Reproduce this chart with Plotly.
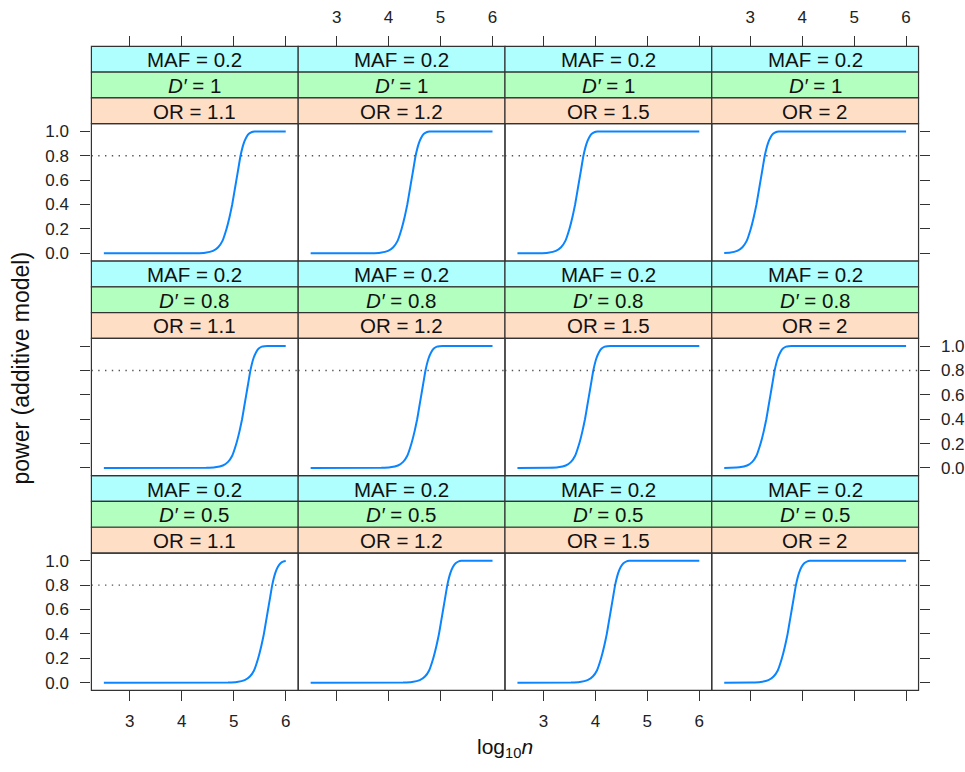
import plotly.graph_objects as go

# ---------------- data ----------------
MAF_VALUE = "0.2"
OR_LEVELS = ["1.1", "1.2", "1.5", "2"]
DPRIME_LEVELS = ["1", "0.8", "0.5"]
X_TICKS = [3, 4, 5, 6]
Y_TICKS = [0.0, 0.2, 0.4, 0.6, 0.8, 1.0]
THRESHOLD = 0.8

POWER = [0, 0.001, 0.005, 0.02, 0.05, 0.1, 0.2, 0.3, 0.4, 0.5, 0.6, 0.7,
         0.8, 0.9, 0.95, 0.98, 0.995, 0.999, 1.0, 1.0]

# D' = 1
x_d10_or11 = [2.5, 4.28, 4.45, 4.60, 4.70, 4.78, 4.86, 4.92, 4.97, 5.01, 5.05, 5.09, 5.13, 5.19, 5.24, 5.29, 5.35, 5.40, 5.46, 6]
x_d10_or12 = [2.5, 3.67, 3.84, 3.99, 4.09, 4.17, 4.25, 4.31, 4.36, 4.40, 4.44, 4.48, 4.52, 4.58, 4.63, 4.68, 4.74, 4.79, 4.85, 6]
x_d10_or15 = [2.5, 2.92, 3.09, 3.24, 3.34, 3.42, 3.50, 3.56, 3.61, 3.65, 3.69, 3.73, 3.77, 3.83, 3.88, 3.93, 3.99, 4.04, 4.10, 6]
x_d10_or20 = [2.5, 2.60, 2.75, 2.85, 2.93, 3.01, 3.07, 3.12, 3.16, 3.20, 3.24, 3.28, 3.34, 3.39, 3.44, 3.50, 3.55, 3.61, 6]
y_d10_or20 = [0.003, 0.005, 0.02, 0.05, 0.1, 0.2, 0.3, 0.4, 0.5, 0.6, 0.7, 0.8, 0.9, 0.95, 0.98, 0.995, 0.999, 1.0, 1.0]
# D' = 0.8
x_d08_or11 = [2.5, 4.47, 4.64, 4.79, 4.89, 4.97, 5.05, 5.11, 5.16, 5.20, 5.24, 5.28, 5.32, 5.38, 5.43, 5.48, 5.54, 5.59, 5.65, 6]
x_d08_or12 = [2.5, 3.86, 4.03, 4.18, 4.28, 4.36, 4.44, 4.50, 4.55, 4.59, 4.63, 4.67, 4.71, 4.77, 4.82, 4.87, 4.93, 4.98, 5.04, 6]
x_d08_or15 = [2.5, 3.11, 3.28, 3.43, 3.53, 3.61, 3.69, 3.75, 3.80, 3.84, 3.88, 3.92, 3.96, 4.02, 4.07, 4.12, 4.18, 4.23, 4.29, 6]
x_d08_or20 = [2.5, 2.62, 2.79, 2.94, 3.04, 3.12, 3.20, 3.26, 3.31, 3.35, 3.39, 3.43, 3.47, 3.53, 3.58, 3.63, 3.69, 3.74, 3.80, 6]
# D' = 0.5
x_d05_or11 = [2.5, 4.89, 5.06, 5.21, 5.31, 5.39, 5.47, 5.53, 5.58, 5.62, 5.66, 5.70, 5.74, 5.80, 5.85, 5.90, 5.96, 6.0]
y_d05_or11 = [0, 0.001, 0.005, 0.02, 0.05, 0.1, 0.2, 0.3, 0.4, 0.5, 0.6, 0.7, 0.8, 0.9, 0.95, 0.98, 0.995, 0.998]
x_d05_or12 = [2.5, 4.28, 4.45, 4.60, 4.70, 4.78, 4.86, 4.92, 4.97, 5.01, 5.05, 5.09, 5.13, 5.19, 5.24, 5.29, 5.35, 5.40, 5.46, 6]
x_d05_or15 = [2.5, 3.53, 3.70, 3.85, 3.95, 4.03, 4.11, 4.17, 4.22, 4.26, 4.30, 4.34, 4.38, 4.44, 4.49, 4.54, 4.60, 4.65, 4.71, 6]
x_d05_or20 = [2.5, 3.03, 3.20, 3.35, 3.45, 3.53, 3.61, 3.67, 3.72, 3.76, 3.80, 3.84, 3.88, 3.94, 3.99, 4.04, 4.10, 4.15, 4.21, 6]

CURVES = [
    [(x_d10_or11, POWER), (x_d10_or12, POWER), (x_d10_or15, POWER), (x_d10_or20, y_d10_or20)],
    [(x_d08_or11, POWER), (x_d08_or12, POWER), (x_d08_or15, POWER), (x_d08_or20, POWER)],
    [(x_d05_or11, y_d05_or11), (x_d05_or12, POWER), (x_d05_or15, POWER), (x_d05_or20, POWER)],
]

# ---------------- layout geometry (pixels) ----------------
W, H = 965, 772
COL_L = [91.5, 298.5, 505.5, 712.5]
COL_W = 207.0
ROW_TOP = [45.5, 261.0, 476.5]
STRIP_H = 25.9
PLOT_H = 137.8
X_RANGE = [2.26, 6.24]
Y_RANGE = [-0.063, 1.063]

FONT = "Liberation Sans, Arial, Helvetica, sans-serif"
LINE_COL = "#333333"
STRIP_COLS = ["#AFFFFF", "#B3FFBF", "#FFDEC6"]  # MAF, D', OR
CURVE_COL = "#0A84FF"


def px(xp):
    return xp / W


def py(yp):
    return 1 - yp / H


fig = go.Figure()
shapes = []
annotations = []

for r in range(3):
    for c in range(4):
        i = r * 4 + c + 1
        s = "" if i == 1 else str(i)
        left = COL_L[c]
        right = left + COL_W
        strip_top = ROW_TOP[r]
        plot_top = strip_top + 3 * STRIP_H
        plot_bot = plot_top + PLOT_H

        xs, ys = CURVES[r][c]
        fig.add_trace(go.Scatter(
            x=xs, y=ys, mode="lines",
            line=dict(color=CURVE_COL, width=2, shape="spline", smoothing=0.4),
            xaxis="x" + s, yaxis="y" + s, showlegend=False, hoverinfo="skip"))

        # x axis
        xa = dict(domain=[px(left), px(right)], range=X_RANGE, tickvals=X_TICKS,
                  showgrid=False, zeroline=False, showline=False,
                  tickfont=dict(family=FONT, size=17, color="#222222"),
                  tickcolor=LINE_COL, tickwidth=1, ticklen=10,
                  ticklabelstandoff=7, anchor="y" + s)
        if r == 0:
            xa.update(side="top", ticks="outside", anchor="free",
                      position=py(strip_top), showticklabels=(c in (1, 3)))
        elif r == 2:
            xa.update(side="bottom", ticks="outside", ticklabelstandoff=5,
                      showticklabels=(c in (0, 2)))
        else:
            xa.update(ticks="", showticklabels=False)

        # y axis
        ya = dict(domain=[py(plot_bot), py(plot_top)], range=Y_RANGE, tickvals=Y_TICKS,
                  tickformat=".1f", showgrid=False, zeroline=False, showline=False,
                  tickfont=dict(family=FONT, size=17, color="#222222"),
                  tickcolor=LINE_COL, tickwidth=1, ticklen=10,
                  ticklabelstandoff=8, anchor="x" + s)
        if c == 0:
            ya.update(side="left", ticks="outside", showticklabels=(r in (0, 2)))
        elif c == 3:
            ya.update(side="right", ticks="outside", showticklabels=(r == 1))
        else:
            ya.update(ticks="", showticklabels=False)

        fig.layout["xaxis" + s] = xa
        fig.layout["yaxis" + s] = ya

        # dotted reference line
        shapes.append(dict(type="line", xref="x" + s + " domain", yref="y" + s,
                           x0=0, x1=1, y0=THRESHOLD, y1=THRESHOLD,
                           line=dict(color="#555555", width=1.4, dash="1.4px,5.4px")))
        # panel border
        shapes.append(dict(type="rect", xref="paper", yref="paper",
                           x0=px(left), x1=px(right), y0=py(plot_bot), y1=py(plot_top),
                           line=dict(color=LINE_COL, width=1.2), layer="above"))
        # strips
        texts = ["MAF = " + MAF_VALUE,
                 "<i>D′</i> = " + DPRIME_LEVELS[r],
                 "OR = " + OR_LEVELS[c]]
        for k in range(3):
            t0 = strip_top + k * STRIP_H
            t1 = t0 + STRIP_H
            shapes.append(dict(type="rect", xref="paper", yref="paper",
                               x0=px(left), x1=px(right), y0=py(t1), y1=py(t0),
                               fillcolor=STRIP_COLS[k],
                               line=dict(color=LINE_COL, width=1.2), layer="below"))
            annotations.append(dict(xref="paper", yref="paper",
                                    x=px(left + COL_W / 2), y=py((t0 + t1) / 2 + 0.5),
                                    text=texts[k], showarrow=False,
                                    xanchor="center", yanchor="middle",
                                    font=dict(family=FONT, size=20.5, color="#111111")))

annotations.append(dict(xref="paper", yref="paper", x=px(21), y=py(368),
                        text="power (additive model)", textangle=-90, showarrow=False,
                        xanchor="center", yanchor="middle",
                        font=dict(family=FONT, size=23, color="#111111")))
annotations.append(dict(xref="paper", yref="paper", x=px(505.5), y=py(750),
                        text="log<sub>10</sub><i>n</i>", showarrow=False,
                        xanchor="center", yanchor="middle",
                        font=dict(family=FONT, size=21, color="#111111")))

fig.update_layout(width=W, height=H, margin=dict(l=0, r=0, t=0, b=0),
                  paper_bgcolor="white", plot_bgcolor="white",
                  shapes=shapes, annotations=annotations,
                  font=dict(family=FONT))

fig.write_html("out.html")
